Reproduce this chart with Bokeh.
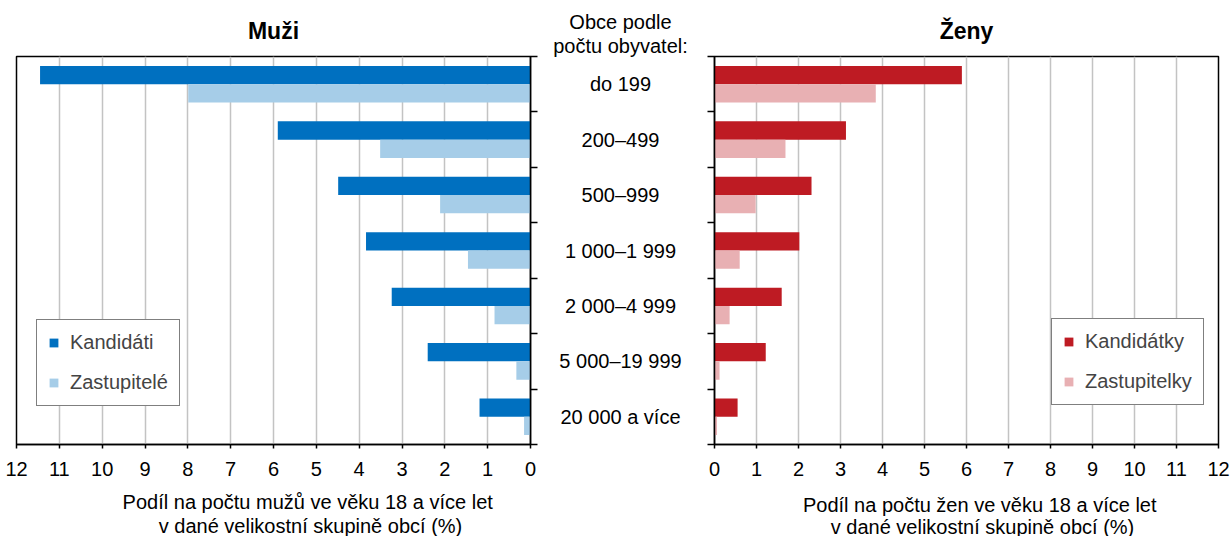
from bokeh.plotting import figure
from bokeh.layouts import row, column
from bokeh.models import Range1d, FixedTicker, Legend, LegendItem, ColumnDataSource, Title
from bokeh.core.properties import value
from bokeh.embed import file_html
from bokeh.resources import INLINE

# ---------------- data ----------------
categories = ["do 199", "200–499", "500–999", "1 000–1 999",
              "2 000–4 999", "5 000–19 999", "20 000 a více"]
muzi_kandidati = [11.45, 5.90, 4.49, 3.84, 3.24, 2.40, 1.19]
muzi_zastupitele = [7.99, 3.51, 2.11, 1.46, 0.84, 0.33, 0.15]
zeny_kandidatky = [5.89, 3.13, 2.31, 2.02, 1.60, 1.22, 0.55]
zeny_zastupitelky = [3.84, 1.69, 0.98, 0.60, 0.36, 0.12, 0.06]
x_ticks = list(range(0, 13))
x_max = 12

title_m = "Muži"
title_z = "Ženy"
header = ["Obce podle", "počtu obyvatel:"]
axis_title_m = ["Podíl  na počtu mužů ve věku 18 a více let",
                "v dané velikostní skupině obcí (%)"]
axis_title_z = ["Podíl  na počtu žen ve věku 18 a více let",
                "v dané velikostní skupině obcí (%)"]
legend_m = ["Kandidáti", "Zastupitelé"]
legend_z = ["Kandidátky", "Zastupitelky"]

# ---------------- style / layout ----------------
FONT = "Liberation Sans"
FS = "20px"
C_MK, C_MZ = "#0070C0", "#A6CDE8"
C_ZK, C_ZZ = "#BE1B23", "#E8B0B3"
GRID = "#C3C3C3"
BAR_H = 0.33
TOP = 56          # frame top (px)
FH = 388          # frame height (both panels, aligned by the row)
ROW_H = 486       # height of the panel row
STRIP_H = 50      # height of the axis-title strip

n = len(categories)
idx = list(range(n))

# left panel geometry
L_BL, L_FW, L_BR = 16, 514, 14
# middle column
M_W = 152
# right panel geometry
R_BL, R_FW, R_BR = 18, 504, 13


def make_panel(kand, zast, ck, cz, reverse, bl, fw, br,
               yloc, leg_labels, leg_loc, title):
    xr = Range1d(x_max, 0) if reverse else Range1d(0, x_max)
    p = figure(width=bl + fw + br, height=ROW_H,
               x_range=xr, y_range=Range1d(n - 0.5, -0.5),
               output_backend="svg", toolbar_location=None,
               y_axis_location=yloc,
               min_border_left=bl, min_border_right=br,
               min_border_top=TOP, min_border_bottom=ROW_H - TOP - FH)
    src = ColumnDataSource(dict(
        yk=[i - BAR_H / 2 for i in idx], yz=[i + BAR_H / 2 for i in idx],
        k=kand, z=zast))
    rk = p.hbar(y="yk", right="k", left=0, height=BAR_H, source=src,
                fill_color=ck, line_color=None)
    rz = p.hbar(y="yz", right="z", left=0, height=BAR_H, source=src,
                fill_color=cz, line_color=None)

    p.ygrid.visible = False
    p.xgrid.grid_line_color = GRID
    p.xgrid.grid_line_width = 1.5
    p.xgrid.ticker = FixedTicker(ticks=x_ticks)
    p.outline_line_color = "black"
    p.outline_line_width = 1.5
    p.background_fill_color = "white"
    p.border_fill_color = "white"

    xa = p.xaxis[0]
    xa.ticker = FixedTicker(ticks=x_ticks)
    xa.major_tick_out = 4
    xa.major_tick_in = 0
    xa.minor_tick_line_color = None
    xa.axis_line_width = 1.5
    xa.major_tick_line_width = 1.5
    xa.major_label_text_font = FONT
    xa.major_label_text_font_size = FS
    xa.major_label_text_color = "black"
    xa.major_label_standoff = 13

    ya = p.yaxis[0]
    bticks = [i - 0.5 for i in range(n + 1)]
    ya.ticker = FixedTicker(ticks=bticks)
    ya.major_label_overrides = {t: "" for t in bticks}
    ya.major_label_standoff = 0
    ya.major_tick_out = 7
    ya.major_tick_in = 0
    ya.minor_tick_line_color = None
    ya.axis_line_width = 1.5
    ya.major_tick_line_width = 1.5

    leg = Legend(items=[LegendItem(label=leg_labels[0], renderers=[rk]),
                        LegendItem(label=leg_labels[1], renderers=[rz])],
                 location=leg_loc, margin=0, padding=11, spacing=17,
                 glyph_width=11, glyph_height=11, label_standoff=11,
                 label_text_font=FONT, label_text_font_size=FS,
                 label_height=20,
                 border_line_color="black", border_line_width=1.5,
                 background_fill_color="white", background_fill_alpha=1)
    p.add_layout(leg)

    p.title = Title(text=title, align="center", text_font=FONT,
                    text_font_size="23px", text_font_style="bold",
                    text_color="black", standoff=26)
    return p


def make_strip(x_range, bl, fw, br):
    s = figure(width=bl + fw + br, height=STRIP_H, x_range=x_range,
               y_range=Range1d(STRIP_H, 0),
               output_backend="svg", toolbar_location=None,
               x_axis_location=None, y_axis_location=None,
               min_border_left=bl, min_border_right=br,
               min_border_top=0, min_border_bottom=0)
    s.grid.visible = False
    s.outline_line_color = None
    return s


left = make_panel(muzi_kandidati, muzi_zastupitele, C_MK, C_MZ, True,
                  L_BL, L_FW, L_BR, "right", legend_m, (20, 38), title_m)
right = make_panel(zeny_kandidatky, zeny_zastupitelky, C_ZK, C_ZZ, False,
                   R_BL, R_FW, R_BR, "left", legend_z, (337, 39), title_z)

# middle column with category labels (frame aligned with the panels)
mid = figure(width=M_W, height=ROW_H,
             x_range=Range1d(0, 1), y_range=Range1d(n - 0.5, -0.5),
             output_backend="svg", toolbar_location=None,
             x_axis_location=None, y_axis_location=None,
             min_border_left=0, min_border_right=0, min_border_top=TOP,
             min_border_bottom=ROW_H - TOP - FH)
mid.grid.visible = False
mid.outline_line_color = None
mid.text(x=[0.5] * n, y=idx, text=categories, text_align="center",
         text_baseline="middle", text_font=value(FONT), text_font_size=FS,
         text_color="black")
# header: two stacked titles (first added is nearest to the frame)
mid.add_layout(Title(text=header[1], align="center", text_font=FONT,
                     text_font_size=FS, text_font_style="normal",
                     text_color="black", standoff=0), "above")
mid.add_layout(Title(text=header[0], align="center", text_font=FONT,
                     text_font_size=FS, text_font_style="normal",
                     text_color="black", standoff=0), "above")

# strips with the axis titles (x position in data units of each panel)
sl = make_strip(left.x_range, L_BL, L_FW, L_BR)
sl.text(x=[x_max - (310 - L_BL) / (L_FW / x_max)] * 2, y=[15, 39],
        text=axis_title_m, text_align="center", text_baseline="middle",
        text_font=value(FONT), text_font_size=FS, text_color="black")
sm = figure(width=M_W, height=STRIP_H, output_backend="svg",
            toolbar_location=None, x_axis_location=None, y_axis_location=None,
            min_border=0)
sm.grid.visible = False
sm.outline_line_color = None
sr = make_strip(right.x_range, R_BL, R_FW, R_BR)
r_x0 = L_BL + L_FW + L_BR + M_W + R_BL
sr.text(x=[(982 - r_x0) / (R_FW / x_max)] * 2, y=[18, 40],
        text=axis_title_z, text_align="center", text_baseline="middle",
        text_font=value(FONT), text_font_size=FS, text_color="black")

layout = column(row(left, mid, right), row(sl, sm, sr))
open("out.html", "w").write(file_html(layout, INLINE))
